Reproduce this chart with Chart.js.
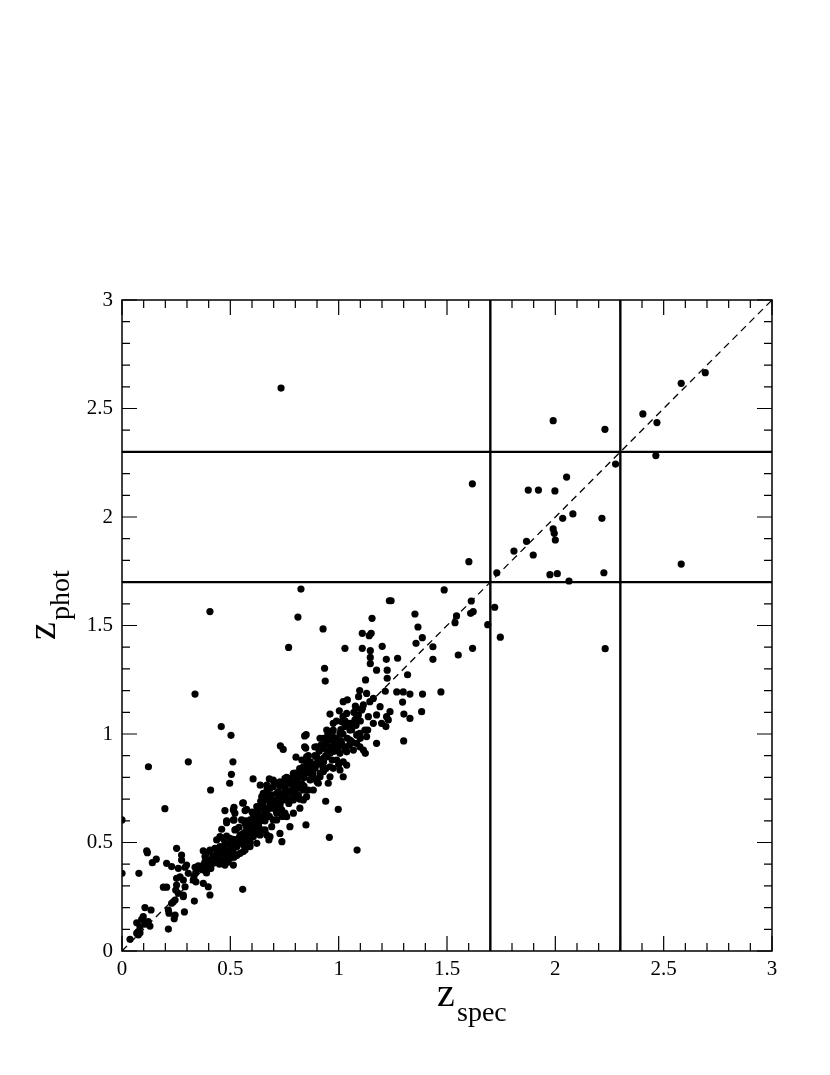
<!DOCTYPE html>
<html>
<head>
<meta charset="utf-8">
<script src="https://cdn.jsdelivr.net/npm/chart.js@4.4.1/dist/chart.umd.min.js"></script>
<style>
  html, body { margin: 0; padding: 0; background: #fff; }
  #wrap { width: 830px; height: 1075px; }
</style>
</head>
<body>
<div id="wrap"><canvas id="zChart" width="830" height="1075"></canvas></div>
<script>
// spectroscopic redshift of each galaxy
const zSpec = [
  0.000, 0.000, 0.037, 0.075, 0.083, 0.068, 0.075, 0.068, 0.091, 0.098, 0.106, 0.121, 0.129, 0.083,
  0.106, 0.134, 0.078, 0.114, 0.117, 0.122, 0.140, 0.158, 0.198, 0.191, 0.206, 0.214, 0.217, 0.214,
  0.241, 0.245, 0.237, 0.245, 0.229, 0.248, 0.252, 0.260, 0.283, 0.283, 0.288, 0.291, 0.252, 0.275,
  0.206, 0.229, 0.275, 0.260, 0.291, 0.298, 0.268, 0.252, 0.283, 0.306, 0.306,
  0.334, 0.337, 0.352, 0.375, 0.329, 0.341, 0.375, 0.332, 0.340, 0.375, 0.383, 0.398, 0.406, 0.337,
  0.406, 0.409, 0.458, 0.503, 0.512, 0.505, 0.497, 0.437, 0.452, 0.467, 0.483, 0.498, 0.514, 0.475,
  0.498, 0.517, 0.452, 0.429, 0.406, 0.391, 0.383, 0.406, 0.434, 0.421, 0.398, 0.375, 0.514, 0.517,
  0.475, 0.514, 0.475, 0.517, 0.521, 0.483, 0.517, 0.460, 0.526, 0.483, 0.514, 0.521, 0.514, 0.557,
  0.452, 0.483, 0.514, 0.545, 0.568,
  0.557, 0.568, 0.568, 0.575, 0.591, 0.606, 0.622, 0.605, 0.638, 0.680, 0.652, 0.668, 0.683, 0.645,
  0.660, 0.637, 0.629, 0.645, 0.668, 0.678, 0.698, 0.714, 0.729, 0.744, 0.752, 0.738, 0.752, 0.560,
  0.575, 0.591, 0.606, 0.622, 0.560, 0.575, 0.606, 0.622, 0.652, 0.668, 0.645, 0.683, 0.714, 0.668,
  0.698, 0.722, 0.752, 0.775, 0.760, 0.791, 0.814, 0.821, 0.798, 0.752, 0.729, 0.837, 0.860, 0.629,
  0.645, 0.668, 0.691, 0.706, 0.737, 0.760, 0.714, 0.691, 0.660, 0.637, 0.622, 0.591, 0.545, 0.575,
  0.552, 0.791, 0.821, 0.775, 0.729, 0.683, 0.698, 0.668, 0.714, 0.760, 0.806, 0.852, 0.744, 0.790,
  0.775, 0.821, 0.868, 0.906, 0.952, 0.837, 0.883, 0.731, 0.744, 0.769, 0.826, 0.812, 0.734, 0.849,
  0.843, 0.850, 0.843, 0.848, 0.914, 0.960, 1.006, 1.060, 1.098, 0.898, 0.929, 0.960, 1.006, 1.037,
  1.123, 0.803, 0.898, 0.929, 0.991, 1.021, 0.852, 0.883, 0.929, 0.975, 0.845, 0.914, 0.960, 1.021,
  0.883, 0.914, 0.929, 0.891, 0.868, 0.906, 0.945, 0.967, 0.983, 0.937, 0.914, 0.852, 0.837, 0.821,
  0.791, 0.940, 0.957, 0.998, 1.085, 0.928, 0.935, 0.938, 0.960, 1.003, 1.037, 1.083, 1.137, 1.221,
  0.945, 1.006, 1.052, 1.098, 1.134, 0.975, 1.015, 1.040, 1.092, 1.021, 1.077, 0.975, 1.029, 1.052,
  1.075, 1.091, 1.106, 1.114, 1.129, 1.160, 1.191, 1.175, 1.198, 1.160, 1.121, 1.083, 1.052, 1.014,
  0.991, 0.960, 0.929, 0.898, 0.868, 0.806, 0.945, 0.975, 1.037, 1.068, 1.083, 1.129, 0.960, 0.929,
  1.006, 1.037, 0.883, 1.175, 1.114, 1.144,
  1.097, 1.215, 1.268, 1.298, 1.329, 1.295, 1.301, 1.329, 1.218, 1.300, 1.237, 1.229, 1.383, 1.387,
  1.472, 1.124, 1.224, 1.318, 1.175, 1.224, 1.146, 1.146, 1.220, 1.272, 1.435, 1.552, 1.029, 1.109,
  1.146, 1.201, 1.357, 1.435, 1.618, 1.386, 1.109, 1.141, 1.150, 1.366, 1.154, 1.352, 1.234, 1.242,
  1.487, 1.544, 1.537, 1.609, 1.621, 1.612, 1.688, 1.720, 1.746,
  1.601, 1.730, 1.617, 1.809, 1.867, 1.898, 1.875, 1.922, 1.998, 1.990, 1.995, 2.000, 2.034, 2.081,
  2.052, 2.215, 1.975, 2.009, 2.063, 2.224, 1.990, 2.229, 2.278, 2.230, 2.404, 2.469, 2.464, 2.581,
  2.692, 2.581,
  0.40, 0.42, 0.44, 0.46, 0.48, 0.43, 0.45, 0.47, 0.49, 0.50,
  0.52, 0.54, 0.56, 0.58, 0.53, 0.55, 0.57, 0.59, 0.60, 0.61,
  0.62, 0.64, 0.66, 0.68, 0.63, 0.65, 0.67, 0.69, 0.70, 0.71,
  0.72, 0.74, 0.76, 0.78, 0.73, 0.75, 0.77, 0.79, 0.80, 0.81,
  0.82, 0.84, 0.86, 0.88, 0.83, 0.85, 0.87, 0.89, 0.90, 0.91,
  0.92, 0.94, 0.96, 0.98, 0.93, 0.95, 0.97, 0.99, 1.00, 1.01,
  1.02, 1.04, 1.06, 1.08, 1.03, 1.05, 1.07, 1.09, 1.10, 1.11,
  0.36, 0.38, 0.39, 0.41, 0.44, 0.46, 0.47, 0.49, 0.51, 0.53,
  0.54, 0.56, 0.57, 0.58, 0.59, 0.60, 0.61, 0.62, 0.63, 0.64,
  0.65, 0.66, 0.67, 0.68, 0.69, 0.70, 0.71, 0.72, 0.73, 0.74,
  0.75, 0.76, 0.77, 0.78, 0.79, 0.80, 0.81, 0.82, 0.83, 0.84,
  0.86, 0.87, 0.88, 0.89, 0.90, 0.92, 0.93, 0.94, 0.95, 0.97,
  0.98, 0.99, 1.00, 1.01, 1.02, 1.03, 1.05, 1.06, 1.08, 1.10
];

// photometric redshift, same order as zSpec
const zPhot = [
  0.604, 0.358, 0.054, 0.074, 0.084, 0.082, 0.089, 0.130, 0.146, 0.158, 0.124, 0.135, 0.115, 0.112,
  0.200, 0.189, 0.358, 0.462, 0.453, 0.849, 0.407, 0.423, 0.656, 0.294, 0.294, 0.189, 0.174, 0.101,
  0.149, 0.166, 0.227, 0.235, 0.220, 0.281, 0.304, 0.266, 0.258, 0.250, 0.180, 0.296, 0.473, 0.442,
  0.404, 0.389, 0.419, 0.381, 0.386, 0.396, 0.342, 0.335, 0.327, 0.358, 0.872,
  0.230, 0.386, 0.392, 0.396, 0.327, 0.319, 0.312, 0.342, 0.360, 0.462, 0.411, 0.296, 0.258, 1.184,
  1.564, 0.742, 1.034, 0.994, 0.872, 0.814, 0.773, 0.512, 0.527, 0.519, 0.530, 0.519, 0.515, 0.496,
  0.488, 0.481, 0.481, 0.473, 0.465, 0.453, 0.435, 0.419, 0.432, 0.404, 0.389, 0.373, 0.453, 0.432,
  0.396, 0.396, 0.647, 0.662, 0.635, 0.591, 0.604, 0.561, 0.561, 0.600, 0.604, 0.558, 0.650, 0.284,
  0.419, 0.419, 0.435, 0.450, 0.465,
  0.681, 0.647, 0.588, 0.573, 0.604, 0.627, 0.665, 0.793, 0.764, 0.793, 0.727, 0.704, 0.681, 0.688,
  0.650, 0.619, 0.573, 0.558, 0.535, 0.512, 0.604, 0.635, 0.665, 0.696, 0.734, 0.504, 0.635, 0.458,
  0.488, 0.504, 0.527, 0.542, 0.683, 0.653, 0.604, 0.642, 0.665, 0.696, 0.711, 0.750, 0.773, 0.765,
  0.788, 0.734, 0.757, 0.734, 0.704, 0.696, 0.719, 0.750, 0.780, 0.796, 0.780, 0.696, 0.742, 0.635,
  0.604, 0.635, 0.658, 0.681, 0.650, 0.619, 0.604, 0.573, 0.558, 0.535, 0.496, 0.481, 0.535, 0.550,
  0.604, 0.635, 0.658, 0.573, 0.542, 0.527, 0.757, 0.734, 0.727, 0.727, 0.711, 0.711, 0.765, 0.757,
  0.796, 0.803, 0.788, 0.773, 0.773, 0.742, 0.742, 0.945, 0.929, 1.399, 1.668, 1.539, 2.594, 0.581,
  0.991, 0.997, 0.941, 0.935, 0.980, 0.972, 0.949, 0.965, 0.941, 0.941, 0.934, 0.918, 0.911, 0.918,
  0.911, 0.893, 0.895, 0.880, 0.880, 0.872, 0.857, 0.849, 0.842, 0.842, 0.826, 0.819, 0.803, 0.803,
  0.796, 0.803, 0.834, 0.842, 0.872, 0.880, 0.895, 0.918, 0.949, 0.957, 0.934, 0.895, 0.849, 0.819,
  0.819, 0.690, 0.524, 0.653, 0.465, 1.484, 1.303, 1.244, 1.092, 1.107, 1.095, 1.080, 1.080, 1.080,
  1.018, 1.003, 1.018, 1.003, 1.018, 1.049, 1.057, 1.157, 1.172, 1.149, 1.129, 1.018, 1.034, 1.049,
  1.065, 1.088, 1.111, 1.134, 1.187, 1.164, 1.126, 1.088, 1.049, 1.049, 1.018, 0.995, 0.972, 0.957,
  0.926, 0.911, 0.888, 0.865, 0.842, 0.803, 0.972, 0.980, 0.941, 0.926, 0.957, 0.988, 0.849, 0.826,
  0.834, 0.857, 0.803, 0.957, 0.926, 1.149,
  1.200, 1.197, 1.194, 1.194, 1.184, 1.147, 1.092, 1.072, 1.034, 0.968, 1.103, 1.065, 1.103, 1.184,
  1.194, 1.249, 1.257, 1.273, 1.294, 1.294, 1.324, 1.353, 1.344, 1.349, 1.344, 1.364, 1.395, 1.395,
  1.384, 1.404, 1.418, 1.402, 1.395, 1.444, 1.464, 1.453, 1.464, 1.493, 1.533, 1.553, 1.614, 1.614,
  1.664, 1.544, 1.513, 1.556, 1.564, 1.613, 1.504, 1.584, 1.446,
  1.794, 1.743, 2.153, 1.843, 1.888, 1.825, 2.124, 2.124, 2.120, 1.945, 1.925, 1.894, 1.994, 2.014,
  2.184, 1.994, 1.734, 1.739, 1.705, 1.743, 2.444, 2.404, 2.244, 1.393, 2.475, 2.435, 2.283, 2.616,
  2.665, 1.783,
  0.42, 0.44, 0.43, 0.45, 0.44, 0.41, 0.40, 0.42, 0.46, 0.43,
  0.50, 0.52, 0.54, 0.56, 0.48, 0.50, 0.52, 0.58, 0.55, 0.60,
  0.62, 0.60, 0.64, 0.66, 0.58, 0.67, 0.62, 0.70, 0.68, 0.65,
  0.70, 0.72, 0.74, 0.70, 0.68, 0.77, 0.78, 0.76, 0.74, 0.79,
  0.84, 0.80, 0.82, 0.86, 0.77, 0.88, 0.79, 0.90, 0.86, 0.92,
  0.95, 0.90, 0.94, 0.96, 0.87, 1.00, 0.88, 0.98, 0.94, 1.02,
  1.00, 0.98, 1.02, 1.04, 1.06, 0.95, 1.10, 1.00, 1.06, 1.12,
  0.38, 0.40, 0.36, 0.38, 0.46, 0.41, 0.47, 0.41, 0.47, 0.44,
  0.57, 0.49, 0.60, 0.51, 0.54, 0.64, 0.57, 0.58, 0.66, 0.69,
  0.62, 0.60, 0.75, 0.62, 0.72, 0.78, 0.69, 0.66, 0.76, 0.62,
  0.70, 0.80, 0.68, 0.77, 0.72, 0.82, 0.76, 0.70, 0.88, 0.76,
  0.90, 0.85, 0.82, 0.94, 0.78, 0.86, 0.98, 0.84, 0.92, 1.00,
  0.92, 1.06, 0.86, 0.97, 1.08, 0.93, 1.04, 0.96, 1.12, 0.98
];

// selection cuts drawn as thick lines, axis range and labelled ticks
const cuts = [1.7, 2.3];
const axisMin = 0, axisMax = 3;
const tickLabels = [0, 0.5, 1, 1.5, 2, 2.5, 3];
const minorStep = 0.1;

const serif = "'Liberation Serif', 'DejaVu Serif', serif";

const points = zSpec.map((x, i) => ({ x: x, y: zPhot[i] }));

const datasets = [{
  label: 'galaxies',
  data: points,
  showLine: false,
  pointRadius: 3.6,
  pointHoverRadius: 3.6,
  pointBackgroundColor: '#000',
  pointBorderWidth: 0,
  order: 0
}, {
  label: 'one to one',
  data: [{ x: axisMin, y: axisMin }, { x: axisMax, y: axisMax }],
  showLine: true,
  pointRadius: 0,
  borderColor: '#000',
  borderWidth: 1.3,
  borderDash: [7, 5],
  order: 2
}];

cuts.forEach(c => {
  datasets.push({
    label: 'cut x ' + c,
    data: [{ x: c, y: axisMin }, { x: c, y: axisMax }],
    showLine: true, pointRadius: 0, borderColor: '#000', borderWidth: 2.4, order: 1
  });
  datasets.push({
    label: 'cut y ' + c,
    data: [{ x: axisMin, y: c }, { x: axisMax, y: c }],
    showLine: true, pointRadius: 0, borderColor: '#000', borderWidth: 2.4, order: 1
  });
});

// frame, inward ticks on all four sides and the subscripted axis titles
const framePlugin = {
  id: 'frame',
  afterDraw(chart) {
    const ctx = chart.ctx;
    const a = chart.chartArea;
    const xs = chart.scales.x, ys = chart.scales.y;
    ctx.save();
    ctx.strokeStyle = '#000';
    ctx.lineWidth = 1.5;
    ctx.strokeRect(a.left, a.top, a.right - a.left, a.bottom - a.top);

    ctx.lineWidth = 1.2;
    const n = Math.round((axisMax - axisMin) / minorStep);
    for (let i = 0; i <= n; i++) {
      const v = axisMin + i * minorStep;
      const len = (i % 5 === 0) ? 15 : 8;
      const px = xs.getPixelForValue(v);
      const py = ys.getPixelForValue(v);
      ctx.beginPath();
      ctx.moveTo(px, a.bottom); ctx.lineTo(px, a.bottom - len);
      ctx.moveTo(px, a.top); ctx.lineTo(px, a.top + len);
      ctx.moveTo(a.left, py); ctx.lineTo(a.left + len, py);
      ctx.moveTo(a.right, py); ctx.lineTo(a.right - len, py);
      ctx.stroke();
    }

    ctx.fillStyle = '#000';
    ctx.textBaseline = 'alphabetic';
    ctx.textAlign = 'left';
    // x title: z_spec
    ctx.font = '40px ' + serif;
    ctx.fillText('z', 437, 1006);
    ctx.font = '28px ' + serif;
    ctx.fillText('spec', 457, 1021);

    // y title: z_phot (rotated)
    ctx.translate(55, 640);
    ctx.rotate(-Math.PI / 2);
    ctx.font = '40px ' + serif;
    ctx.fillText('z', 0, 0);
    ctx.font = '28px ' + serif;
    ctx.fillText('phot', 20, 14);
    ctx.restore();
  }
};

new Chart(document.getElementById('zChart').getContext('2d'), {
  type: 'scatter',
  data: { datasets: datasets },
  options: {
    responsive: false,
    animation: false,
    devicePixelRatio: 1,
    layout: { padding: { top: 300, right: 58, left: 0, bottom: 0 } },
    plugins: {
      legend: { display: false },
      tooltip: { enabled: false }
    },
    scales: {
      x: {
        type: 'linear',
        min: axisMin, max: axisMax,
        afterFit(s) { s.height = 124; },
        afterBuildTicks(s) { s.ticks = tickLabels.map(v => ({ value: v })); },
        grid: { display: false, drawTicks: false },
        border: { display: false },
        ticks: {
          color: '#000',
          padding: 6,
          font: { family: serif, size: 21 },
          maxRotation: 0,
          callback: v => String(v)
        }
      },
      y: {
        type: 'linear',
        min: axisMin, max: axisMax,
        afterFit(s) { s.width = 122; },
        afterBuildTicks(s) { s.ticks = tickLabels.map(v => ({ value: v })); },
        grid: { display: false, drawTicks: false },
        border: { display: false },
        ticks: {
          color: '#000',
          padding: 9,
          font: { family: serif, size: 21 },
          callback: v => String(v)
        }
      }
    }
  },
  plugins: [framePlugin]
});
</script>
</body>
</html>
